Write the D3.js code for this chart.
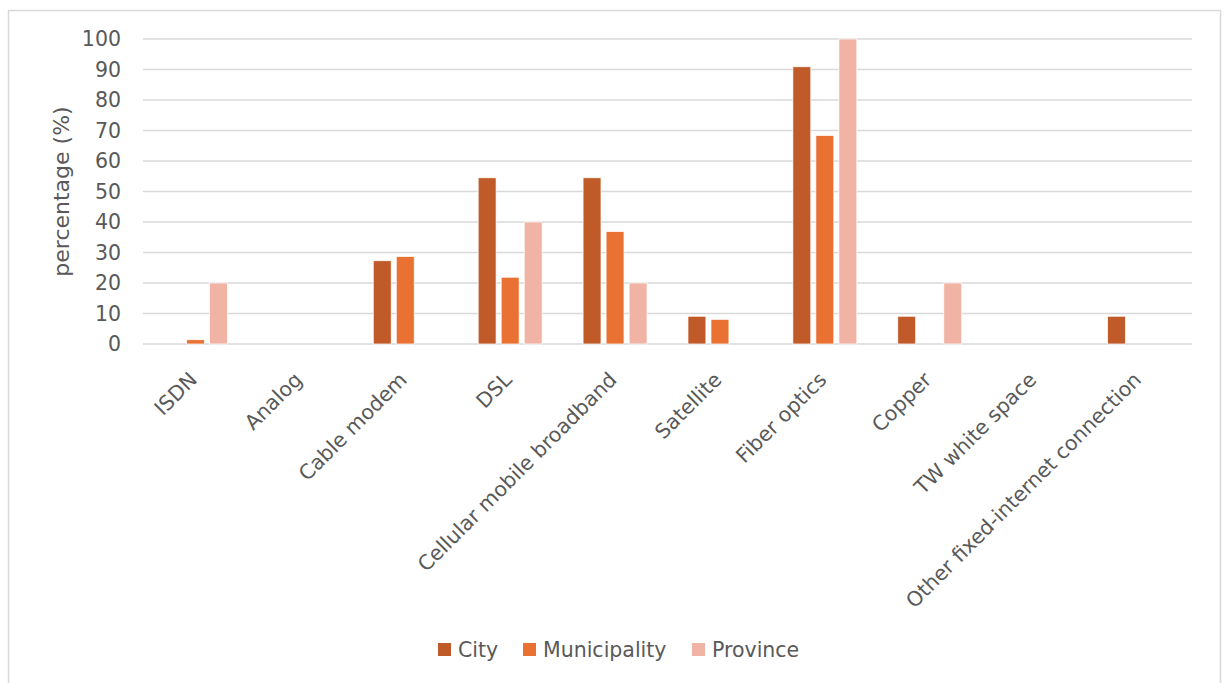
<!DOCTYPE html>
<html>
<head>
<meta charset="utf-8">
<script src="https://cdn.jsdelivr.net/npm/d3@7"></script>
<style>
  body { margin: 0; background: #fff; }
  svg { display: block; font-family: "DejaVu Sans", sans-serif; }
</style>
</head>
<body>
<div id="chart"></div>
<script>
// chart data
const categories = ["ISDN", "Analog", "Cable modem", "DSL", "Cellular mobile broadband",
  "Satellite", "Fiber optics", "Copper", "TW white space", "Other fixed-internet connection"];
const series = ["City", "Municipality", "Province"];
const city = [0, 0, 27.3, 54.5, 54.5, 9.1, 90.9, 9.1, 0, 9.1];
const municipality = [1.4, 0, 28.7, 21.9, 36.9, 8.1, 68.4, 0, 0, 0];
const province = [20, 0, 0, 40, 20, 0, 100, 20, 0, 0];
const yTicks = [0, 10, 20, 30, 40, 50, 60, 70, 80, 90, 100];
const colors = ["#C05A28", "#E97132", "#F1B3A4"];

const values = [city, municipality, province];
const rows = categories.map((c, i) => ({
  cat: c,
  vals: series.map((s, j) => ({ key: s, value: values[j][i] }))
}));

const width = 1227, height = 683;
const margin = { top: 39, right: 35, bottom: 339, left: 143 };
const textColor = "#595959";
const gridColor = "#D9D9D9";
const fontSize = "20.5px";

const svg = d3.select("#chart").append("svg")
  .attr("width", width).attr("height", height);

// outer chart border
svg.append("rect")
  .attr("x", 8.5).attr("y", 10.5)
  .attr("width", 1212).attr("height", 700)
  .attr("fill", "none").attr("stroke", gridColor).attr("stroke-width", 1.5);

const x0 = d3.scaleBand().domain(categories)
  .range([margin.left, width - margin.right]);
const bw = x0.bandwidth();
const x1 = d3.scaleBand().domain(series)
  .range([bw * 0.195, bw * 0.805]).paddingInner(0.22);
const y = d3.scaleLinear().domain([0, 100])
  .range([height - margin.bottom, margin.top]);

// gridlines
svg.append("g")
  .selectAll("line")
  .data(yTicks)
  .join("line")
  .attr("x1", margin.left).attr("x2", width - margin.right)
  .attr("y1", d => y(d)).attr("y2", d => y(d))
  .attr("stroke", gridColor).attr("stroke-width", 1.5);

// y axis labels
const yAxis = d3.axisLeft(y).tickValues(yTicks).tickSize(0).tickPadding(22);
svg.append("g")
  .attr("transform", `translate(${margin.left},0)`)
  .call(yAxis)
  .call(g => g.select(".domain").remove())
  .call(g => g.selectAll("text")
    .attr("fill", textColor)
    .style("font-size", fontSize)
    .style("font-family", "DejaVu Sans, sans-serif"));

// y title
svg.append("text")
  .attr("transform", `translate(69,${(y(0) + y(100)) / 2}) rotate(-90)`)
  .attr("text-anchor", "middle")
  .attr("fill", textColor)
  .style("font-size", "22px")
  .text("percentage (%)");

// bars
svg.append("g")
  .selectAll("g")
  .data(rows)
  .join("g")
  .attr("transform", d => `translate(${x0(d.cat)},0)`)
  .selectAll("rect")
  .data(d => d.vals.filter(v => v.value > 0))
  .join("rect")
  .attr("x", d => x1(d.key))
  .attr("width", x1.bandwidth())
  .attr("y", d => y(d.value))
  .attr("height", d => y(0) - y(d.value))
  .attr("fill", d => colors[series.indexOf(d.key)])
  .attr("stroke", "#fff").attr("stroke-width", 0.75);

// x axis labels, rotated
const xAxis = d3.axisBottom(x0).tickSize(0).tickPadding(0);
svg.append("g")
  .attr("transform", `translate(0,${y(0)})`)
  .call(xAxis)
  .call(g => g.select(".domain").remove())
  .call(g => g.selectAll("text")
    .attr("fill", textColor)
    .style("font-size", fontSize)
    .style("font-family", "DejaVu Sans, sans-serif")
    .attr("text-anchor", "end")
    .attr("dy", null)
    .attr("y", 0)
    .attr("transform", "translate(3,37) rotate(-45)"));

// legend
const legendX = [438, 523, 692];
const legend = svg.append("g")
  .selectAll("g")
  .data(series)
  .join("g")
  .attr("transform", (d, i) => `translate(${legendX[i]},643)`);
legend.append("rect")
  .attr("width", 13).attr("height", 13)
  .attr("fill", (d, i) => colors[i]);
legend.append("text")
  .attr("x", 20).attr("y", 14)
  .attr("fill", textColor)
  .style("font-size", fontSize)
  .text(d => d);
</script>
</body>
</html>
